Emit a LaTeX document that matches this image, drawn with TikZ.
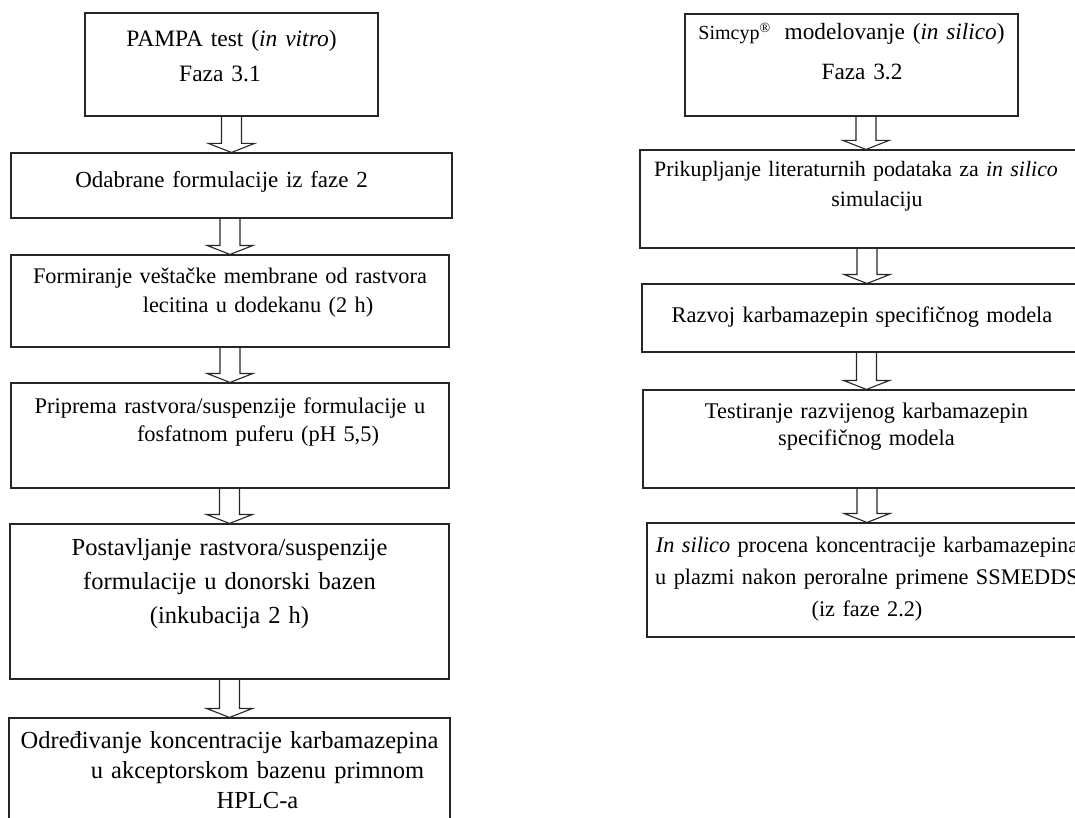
\documentclass[tikz,border=0pt]{standalone}
\usepackage{fontspec}
\setmainfont{Liberation Serif}

\begin{document}
\begin{tikzpicture}[x=1pt, y=-1pt, line width=1.1pt,
    box/.style={draw=black!85, inner sep=0pt, anchor=base, align=center},
    blockarrow/.style={draw=black!85, to path={([xshift=-10pt]\tikztostart) -- ([xshift=-10pt,yshift=9pt]\tikztotarget)
        -- ([xshift=-23pt,yshift=9pt]\tikztotarget) -- (\tikztotarget) -- ([xshift=23pt,yshift=9pt]\tikztotarget)
        -- ([xshift=10pt,yshift=9pt]\tikztotarget) -- ([xshift=10pt]\tikztostart)}}]
    \useasboundingbox (0,0) rectangle (1075,818);
    \clip (0,0) rectangle (1075,818);

    \node[box, font=\fontsize{23.5}{35}\selectfont, text width=293pt, text height=34pt, text depth=69pt] (l1) at (231.5,47)
        {PAMPA test (\textit{in vitro})\\Faza 3.1\hspace{23pt}\mbox{}};
    \node[box, font=\fontsize{23}{30}\selectfont, text width=441pt, text height=35pt, text depth=30pt] (l2) at (231.5,188)
        {Odabrane formulacije iz faze 2\hspace{20pt}\mbox{}};
    \node[box, font=\fontsize{22.3}{29}\selectfont, text width=438pt, text height=28pt, text depth=64pt] (l3) at (230,283)
        {Formiranje veštačke membrane od rastvora\\\hspace*{56pt}lecitina u dodekanu (2 h)};
    \node[box, font=\fontsize{22.4}{28}\selectfont, text width=438pt, text height=30pt, text depth=75pt] (l4) at (230,413)
        {Priprema rastvora/suspenzije formulacije u\\\hspace*{56pt}fosfatnom puferu (pH 5,5)};
    \node[box, font=\fontsize{24.5}{34}\selectfont, text width=439pt, text height=31pt, text depth=124pt] (l5) at (229.5,555)
        {Postavljanje rastvora/suspenzije\\formulacije u donorski bazen\\(inkubacija 2 h)};
    \node[box, font=\fontsize{24.5}{30}\selectfont, text width=441pt, text height=30pt, text depth=120pt] (l6) at (229.5,748)
        {Određivanje koncentracije karbamazepina\\\hspace*{56pt}u akceptorskom bazenu primnom\\\hspace*{56pt}HPLC-a};

    \node[box, font=\fontsize{23.3}{40}\selectfont, text width=333pt, text height=26pt, text depth=76pt] (r1) at (851.5,40)
        {{\fontsize{20}{20}\selectfont Simcyp\textsuperscript{®}}\hspace{14pt}modelovanje (\textit{in silico})\\\hspace*{21pt}Faza 3.2};
    \node[box, font=\fontsize{21.9}{30}\selectfont, text width=452pt, text height=27pt, text depth=71pt] (r2) at (866,177)
        {Prikupljanje literaturnih podataka za \textit{in silico}\hspace{20pt}\mbox{}\\\hspace*{22pt}simulaciju};
    \node[box, font=\fontsize{22.4}{30}\selectfont, text width=450pt, text height=38pt, text depth=30pt] (r3) at (867,322)
        {Razvoj karbamazepin specifičnog modela\hspace{10pt}\mbox{}};
    \node[box, font=\fontsize{22.4}{27}\selectfont, text width=447pt, text height=28pt, text depth=70pt] (r4) at (866.5,418)
        {Testiranje razvijenog karbamazepin\\specifičnog modela};
    \node[box, font=\fontsize{22.3}{32}\selectfont, text width=440pt, text height=29pt, text depth=85pt] (r5) at (867,552)
        {\textit{In silico} procena koncentracije karbamazepina\\u plazmi nakon peroralne primene SSMEDDS\\(iz faze 2.2)};

    \draw[blockarrow] (l2.north |- l1.south) to (l2.north);
    \draw[blockarrow] (l3.north |- l2.south) to (l3.north);
    \draw[blockarrow] (l4.north |- l3.south) to (l4.north);
    \draw[blockarrow] (l5.north |- l4.south) to (l5.north);
    \draw[blockarrow] (l6.north |- l5.south) to (l6.north);
    \draw[blockarrow] (r2.north |- r1.south) to (r2.north);
    \draw[blockarrow] (r3.north |- r2.south) to (r3.north);
    \draw[blockarrow] (r4.north |- r3.south) to (r4.north);
    \draw[blockarrow] (r5.north |- r4.south) to (r5.north);
\end{tikzpicture}
\end{document}
